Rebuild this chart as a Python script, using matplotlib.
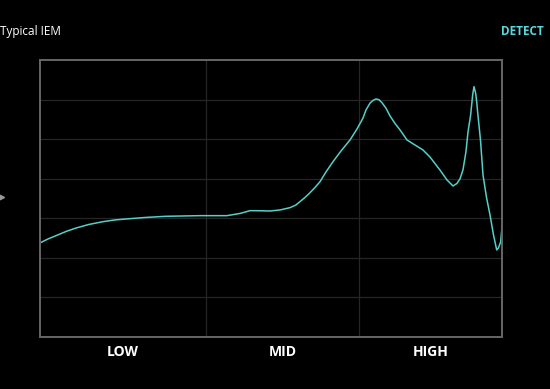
import matplotlib.pyplot as plt
from matplotlib.lines import Line2D

# frequency response (Hz, dB)
freqs = [20, 22.5, 25.4, 29.5, 34.3, 41.6, 51.3, 61.4, 72.4, 96.1, 131.6, 218.8, 327,
         398, 462, 537, 624, 724, 840, 919, 975, 1051, 1133, 1221, 1316, 1439,
         1598, 1801, 2061, 2288, 2500, 2618, 2780, 2910, 3040, 3180, 3326, 3532,
         3750, 4040, 4356, 4834, 5445, 6138, 6808, 7910, 8790, 9616, 10200, 10670,
         11160, 11670, 12030, 12520, 12900, 13160, 13490, 13700, 13960, 14500, 15060,
         15850, 16720, 17620, 18480, 18970, 19620, 20000]
spl = [-3.12, -2.62, -2.20, -1.67, -1.23, -0.78, -0.43, -0.21, -0.09, 0.10, 0.25, 0.33, 0.33,
       0.61, 0.96, 0.95, 0.92, 1.05, 1.34, 1.68, 2.10, 2.63, 3.23, 3.89, 4.62, 5.85,
       7.15, 8.50, 9.89, 11.28, 12.64, 13.68, 14.55, 14.9, 15.07, 14.98, 14.6, 13.9,
       12.93, 11.98, 11.16, 9.89, 9.26, 8.63, 7.75, 6.10, 4.84, 4.08, 4.40, 4.97,
       6.1, 8.4, 10.9, 13.05, 15.58, 16.63, 15.8, 14.73, 13.05, 9.89, 5.47,
       2.69, 0.42, -2.11, -4.0, -3.75, -2.96, -1.1]

band_names = ['LOW', 'MID', 'HIGH']
band_edges = [20, 239, 2358, 20000]

fig = plt.figure(figsize=(5.5, 3.89), dpi=100, facecolor='black')
ax = fig.add_axes([0.0727, 0.1337, 0.84, 0.7121], facecolor='black')

ax.plot(freqs, spl, color='#55cfc8', lw=1.1, solid_joinstyle='round')
ax.set_xscale('log')
ax.set_xlim(20, 20000)
ax.set_ylim(-15, 20)

# grid
for db in range(-10, 20, 5):
    ax.axhline(db, color='#262626', lw=0.9, zorder=0)
for f in band_edges[1:-1]:
    ax.axvline(f, color='#262626', lw=0.9, zorder=0)

for s in ax.spines.values():
    s.set_color('#666666')
    s.set_linewidth(1.4)
ax.set_xticks([])
ax.set_yticks([])
ax.minorticks_off()

# band labels centred in each region
for i in range(3):
    lo, hi = band_edges[i], band_edges[i + 1]
    mid = (lo * hi) ** 0.5
    ax.text(mid, -0.055, band_names[i], transform=ax.get_xaxis_transform(),
            ha='center', va='center', color='white', fontsize=10,
            fontweight='bold', family='Open Sans')

fig.text(0.0, 0.92, 'Typical IEM', color='white', fontsize=8.5,
         ha='left', va='center', family='Open Sans')
fig.text(0.988, 0.92, 'DETECT', color='#5ad6df', fontsize=8.5,
         fontweight='bold', ha='right', va='center', family='Open Sans')

fig.add_artist(Line2D([0.001], [0.494], marker='>', color='#999999',
                      markersize=4, transform=fig.transFigure))

fig.savefig('out.png', dpi=100, facecolor='black')
